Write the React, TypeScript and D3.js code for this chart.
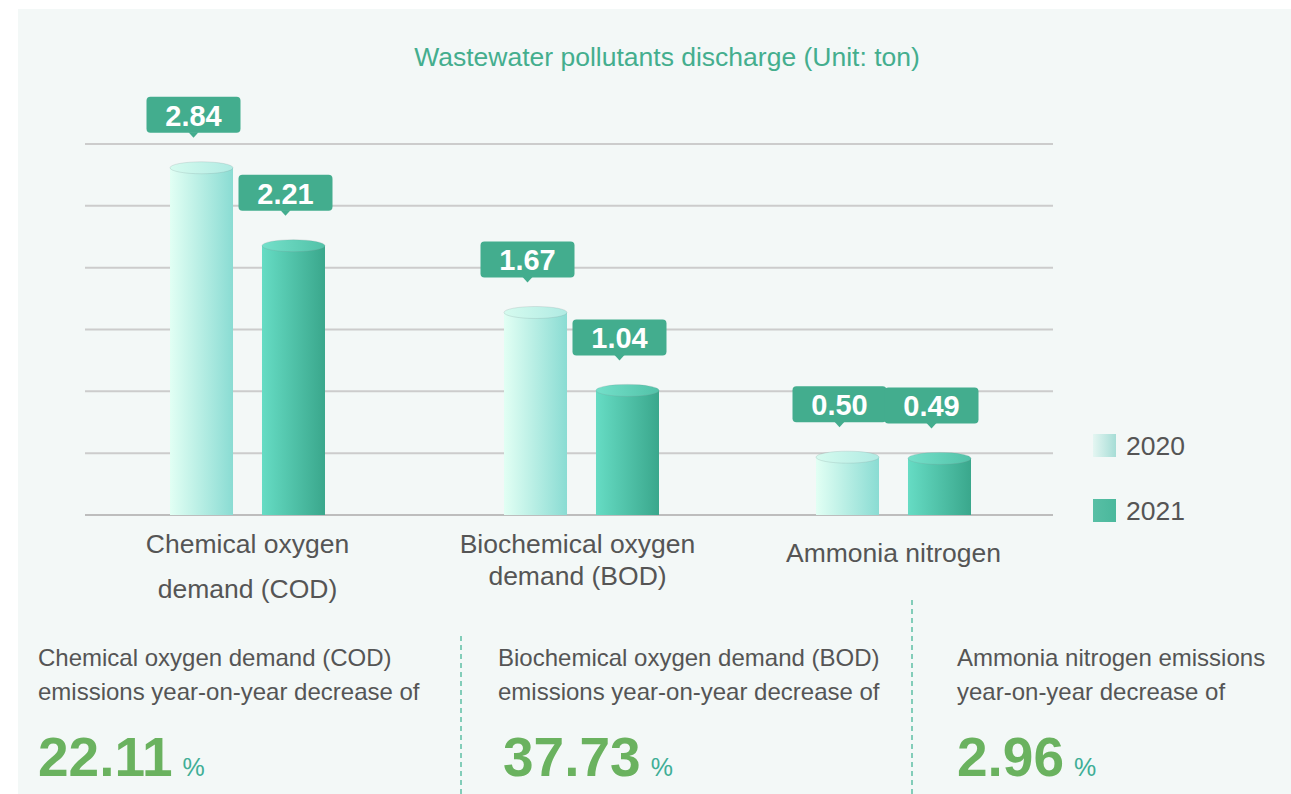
import React, { useEffect, useRef } from "react";
import * as d3 from "d3";

// chart data
const categories = ["COD", "BOD", "NH3N"];
const categoryLines = [
  ["Chemical oxygen", "demand (COD)"],
  ["Biochemical oxygen", "demand (BOD)"],
  ["Ammonia nitrogen"],
];
const years = ["2020", "2021"];
const values2020 = [2.84, 1.67, 0.5];
const values2021 = [2.21, 1.04, 0.49];
const yTicks = [0, 0.5, 1, 1.5, 2, 2.5, 3];

// bottom summary
const summaryLines = [
  ["Chemical oxygen demand (COD)", "emissions year-on-year decrease of"],
  ["Biochemical oxygen demand (BOD)", "emissions year-on-year decrease of"],
  ["Ammonia nitrogen emissions", "year-on-year decrease of"],
];
const decreases = ["22.11", "37.73", "2.96"];

const W = 1291, H = 794;
const FONT = "'Liberation Sans', Arial, sans-serif";

export default function App() {
  const ref = useRef<SVGSVGElement>(null);

  useEffect(() => {
    const svg = d3.select(ref.current);
    svg.selectAll("*").remove();

    const defs = svg.append("defs");
    const grad = (id: string, a: string, b: string) => {
      const g = defs.append("linearGradient").attr("id", id).attr("x1", 0).attr("x2", 1).attr("y1", 0).attr("y2", 0);
      g.append("stop").attr("offset", "0%").attr("stop-color", a);
      g.append("stop").attr("offset", "100%").attr("stop-color", b);
    };
    grad("g2020", "#e2fff4", "#8adcd3");
    grad("g2021", "#66dcc4", "#3aa78c");
    grad("t2020", "#d6fbef", "#b0ebe3");
    grad("t2021", "#74e0ca", "#52c2a8");
    grad("l2020", "#e4f6f2", "#a6ddd6");
    grad("l2021", "#58bfa5", "#4ab89c");

    // panel
    svg.append("rect").attr("x", 18).attr("y", 9).attr("width", W - 18).attr("height", H - 9).attr("fill", "#f3f8f7");

    // title
    svg.append("text")
      .attr("x", 667).attr("y", 66)
      .attr("text-anchor", "middle")
      .style("font-family", FONT).style("font-size", "26.5px")
      .attr("fill", "#44ae8e")
      .text("Wastewater pollutants discharge (Unit: ton)");

    const x0 = d3.scaleBand<string>().domain(categories).range([86, 1055]);
    const y = d3.scaleLinear().domain([0, 3]).range([515, 144]);
    // small hand nudges so groups sit where the original placed them
    const barNudge = [0, 11, 0];
    const labelNudge = [0, 7, 0];

    // grid
    svg.append("g").selectAll("line").data(yTicks).join("line")
      .attr("x1", 85).attr("x2", 1053)
      .attr("y1", d => y(d)).attr("y2", d => y(d))
      .attr("stroke", d => (d === 0 ? "#bdbdbd" : "#cccccc"))
      .attr("stroke-width", 2);

    const series = [values2020, values2021];
    const ry = 6;

    categories.forEach((cat, ci) => {
      const cx = x0(cat)! + x0.bandwidth() / 2;
      const gx = cx + barNudge[ci];
      const x1 = d3.scaleBand<string>().domain(years).range([gx - 77.5, gx + 77.5]).paddingInner(0.315);
      const g = svg.append("g");

      years.forEach((yr, si) => {
        const v = series[si][ci];
        const bx = x1(yr)!;
        const bw = x1.bandwidth();
        const top = y(v) + 4;
        g.append("rect")
          .attr("x", bx).attr("y", top).attr("width", bw).attr("height", y(0) - top)
          .attr("fill", `url(#g${yr})`);
        g.append("ellipse")
          .attr("cx", bx + bw / 2).attr("cy", top).attr("rx", bw / 2).attr("ry", ry)
          .attr("fill", `url(#t${yr})`)
          .attr("stroke", "rgba(120,140,140,0.25)").attr("stroke-width", 0.8);

        // value tag
        const tx = bx + bw / 2 - 8;
        const tip = top - ry - 24;
        const bh = 36, bwid = 94;
        const by = tip - 5 - bh;
        g.append("rect")
          .attr("x", tx - bwid / 2).attr("y", by).attr("width", bwid).attr("height", bh)
          .attr("rx", 4).attr("fill", "#43ad8e");
        g.append("path")
          .attr("d", `M${tx - 5},${by + bh - 0.5} L${tx + 5},${by + bh - 0.5} L${tx},${tip} Z`)
          .attr("fill", "#43ad8e");
        g.append("text")
          .attr("x", tx).attr("y", by + bh - 7)
          .attr("text-anchor", "middle")
          .style("font-family", FONT).style("font-size", "29px").style("font-weight", "bold")
          .attr("fill", "#ffffff")
          .text(v.toFixed(2));
      });

      // category label
      const lines = categoryLines[ci];
      const lh = ci === 0 ? 45 : 32;
      const startY = lines.length === 1 ? 562 : 553;
      const t = svg.append("text")
        .attr("text-anchor", "middle")
        .style("font-family", FONT).style("font-size", "26.5px")
        .attr("fill", "#555555");
      lines.forEach((ln, li) => {
        t.append("tspan").attr("x", cx + labelNudge[ci]).attr("y", startY + li * lh).text(ln);
      });
    });

    // legend
    years.forEach((yr, i) => {
      const ly = 434 + i * 65;
      svg.append("rect").attr("x", 1093).attr("y", ly).attr("width", 23).attr("height", 23).attr("fill", `url(#l${yr})`);
      svg.append("text")
        .attr("x", 1126).attr("y", ly + 21)
        .style("font-family", FONT).style("font-size", "26.5px")
        .attr("fill", "#555555")
        .text(yr);
    });

    // dashed dividers
    const dividers = [[461, 636], [912, 600]];
    dividers.forEach(([dx, dy]) => {
      svg.append("line")
        .attr("x1", dx).attr("x2", dx).attr("y1", dy).attr("y2", H)
        .attr("stroke", "#5dbfa5").attr("stroke-width", 1.5)
        .attr("stroke-dasharray", "5,4");
    });

    // summary blocks
    const blockX = [38, 498, 957];
    const numX = [38, 503, 957];
    summaryLines.forEach((lines, i) => {
      const bx = blockX[i];
      lines.forEach((ln, li) => {
        svg.append("text")
          .attr("x", bx).attr("y", 666 + li * 34)
          .style("font-family", FONT).style("font-size", "24px")
          .attr("fill", "#555555")
          .text(ln);
      });
      const num = svg.append("text")
        .attr("x", numX[i]).attr("y", 776)
        .style("font-family", FONT).style("font-size", "55px").style("font-weight", "bold")
        .attr("fill", "#6ab25f")
        .text(decreases[i]);
      const nw = (num.node() as SVGTextElement).getComputedTextLength();
      svg.append("text")
        .attr("x", numX[i] + nw + 10).attr("y", 776)
        .style("font-family", FONT).style("font-size", "25px")
        .attr("fill", "#3fae96")
        .text("%");
    });
  }, []);

  return (
    <svg
      ref={ref}
      width={W}
      height={H}
      style={{ position: "absolute", left: 0, top: 0, background: "#ffffff" }}
    />
  );
}
